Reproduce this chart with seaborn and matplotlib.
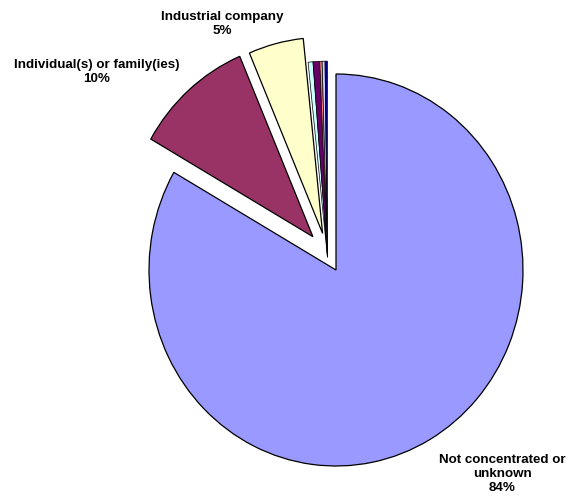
import matplotlib
matplotlib.use("Agg")
import numpy as np
import matplotlib.pyplot as plt
import seaborn as sns

# ── data ────────────────────────────────────────────────────────────────────
owners = ["Not concentrated or\nunknown", "Individual(s) or family(ies)",
          "Industrial company", "Bank", "Insurance", "State", "Foundation", "Other"]
shares = [83.3, 10.3, 4.75, 0.42, 0.58, 0.2, 0.25, 0.2]
shown_pct = ["84%", "10%", "5%", None, None, None, None, None]
colors = ["#9999FF", "#993366", "#FFFFCC", "#CCFFFF", "#660066",
          "#FF8080", "#CCCCFF", "#000080"]

# Excel-style explosion: distance (radius units) and direction (degrees)
explode_dist = [0.0, 0.21, 0.20, 0.08, 0.08, 0.08, 0.08, 0.08]
explode_dir = [0, 126, 111, 125, 125, 125, 125, 125]

# label centres (data units, pie radius = 1)
label_pos = {0: (0.89, -1.04), 1: (-1.28, 1.01), 2: (-0.61, 1.255)}

sns.set_theme(style="white")
plt.rcParams["font.family"] = ["Liberation Sans", "DejaVu Sans"]

fig = plt.figure(figsize=(5.69, 4.96), dpi=100)
ax = fig.add_axes([0, 0, 1, 1])

wedges, _ = ax.pie(shares, colors=colors, startangle=90,
                   counterclock=False, normalize=True,
                   wedgeprops=dict(edgecolor="black", linewidth=0.9))

for i, (w, d, a) in enumerate(zip(wedges, explode_dist, explode_dir)):
    t = np.deg2rad(a)
    w.set_center((d * np.cos(t), d * np.sin(t)))
    if shares[i] < 1:            # thin slivers: lighter outline so colour shows
        w.set_linewidth(0.5)

for i, (x, y) in label_pos.items():
    ax.text(x, y, f"{owners[i]}\n{shown_pct[i]}", ha="center", va="center",
            multialignment="center", fontsize=9.6, fontweight="bold",
            color="black", linespacing=1.2)

# slightly elliptical pie like the original export
ax.set_aspect("auto")
ax.set_xlim(-336 / 187, (569 - 336) / 187)
ax.set_ylim(-(496 - 270) / 196, 270 / 196)
ax.axis("off")

fig.savefig("out.png", dpi=100)
